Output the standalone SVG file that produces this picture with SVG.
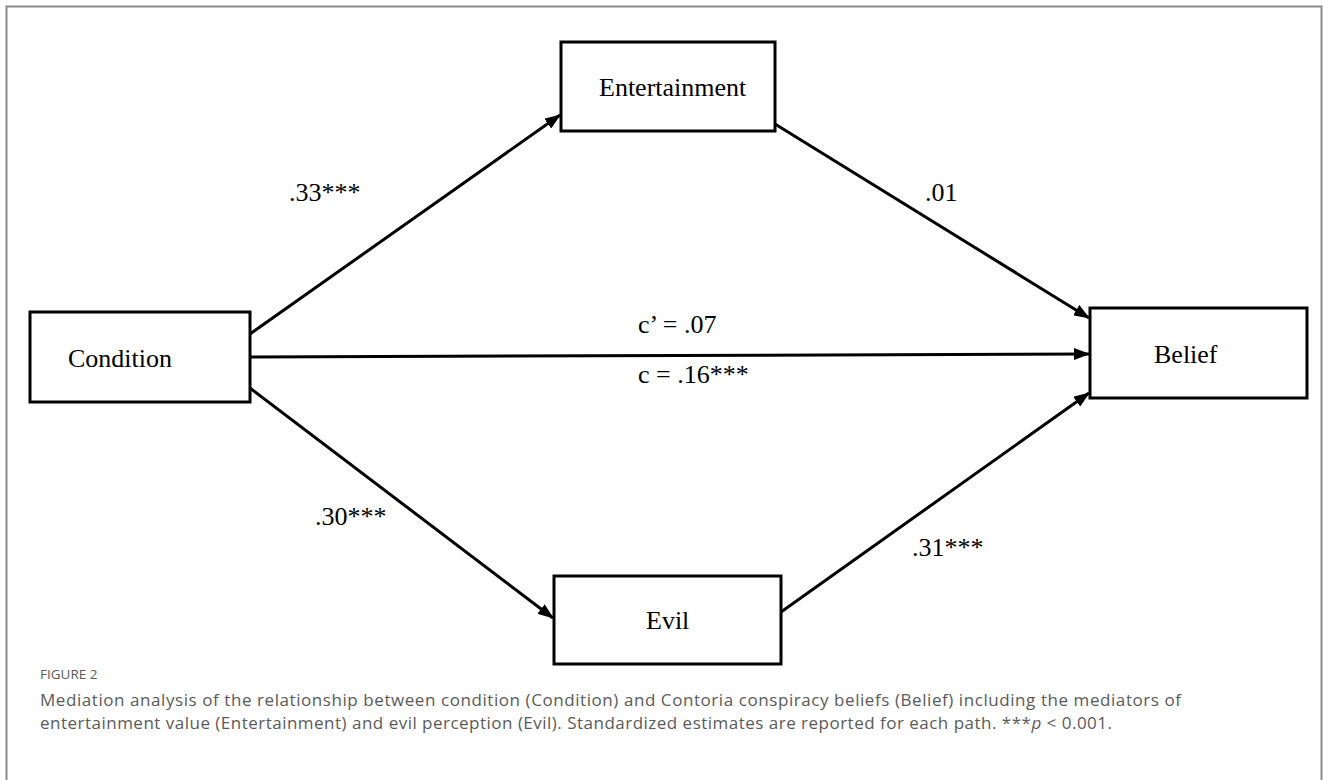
<svg xmlns="http://www.w3.org/2000/svg" width="1328" height="780" viewBox="0 0 1328 780">
<style>
.box{fill:#fff;stroke:#000;stroke-width:3}
.lbl{font-family:"Liberation Serif","Times New Roman",serif;font-size:26px;fill:#000}
.edge{stroke:#000;stroke-width:3;fill:none;marker-end:url(#arr)}
.cap{font-family:"Open Sans","Noto Sans",sans-serif;fill:#5a5a5a}
</style>
<defs>
<marker id="arr" markerUnits="userSpaceOnUse" markerWidth="16" markerHeight="12" refX="15" refY="6" orient="auto">
<path d="M0,0 L16,6 L0,12 z" fill="#000"/>
</marker>
</defs>
<rect x="0" y="0" width="1328" height="780" fill="#fff"/>
<path d="M6.5,790 V6.5 H1321.5 V790" fill="none" stroke="#8a8a8a" stroke-width="2"/>
<g id="connectors">
<line class="edge" x1="250" y1="334" x2="560" y2="115"/>
<line class="edge" x1="775" y1="124" x2="1089" y2="318"/>
<line class="edge" x1="250" y1="357" x2="1089" y2="354"/>
<line class="edge" x1="250" y1="388" x2="553" y2="618"/>
<line class="edge" x1="781" y1="612" x2="1089" y2="393"/>
</g>
<g id="labels">
<text class="lbl" x="289" y="201">.33***</text>
<text class="lbl" x="925" y="201">.01</text>
<text class="lbl" x="638" y="333">c’ = .07</text>
<text class="lbl" x="638" y="383">c = .16***</text>
<text class="lbl" x="315" y="525">.30***</text>
<text class="lbl" x="912" y="556">.31***</text>
</g>
<g id="entertainment">
<rect class="box" x="561" y="42" width="214" height="89"/>
<text class="lbl" x="599" y="96">Entertainment</text>
</g>
<g id="condition">
<rect class="box" x="30" y="312" width="220" height="90"/>
<text class="lbl" x="68" y="367">Condition</text>
</g>
<g id="belief">
<rect class="box" x="1090" y="308" width="217" height="90"/>
<text class="lbl" x="1154" y="363">Belief</text>
</g>
<g id="evil">
<rect class="box" x="554" y="576" width="227" height="88"/>
<text class="lbl" x="646" y="629">Evil</text>
</g>
<g id="caption">
<text class="cap" x="40" y="679" font-size="13.5" fill="#777">FIGURE 2</text>
<text class="cap" x="40" y="706" font-size="17" textLength="1141" lengthAdjust="spacing">Mediation analysis of the relationship between condition (Condition) and Contoria conspiracy beliefs (Belief) including the mediators of</text>
<text class="cap" x="40" y="729" font-size="17" textLength="1072" lengthAdjust="spacing">entertainment value (Entertainment) and evil perception (Evil). Standardized estimates are reported for each path. ***<tspan font-style="italic">p</tspan> &lt; 0.001.</text>
</g>
</svg>
